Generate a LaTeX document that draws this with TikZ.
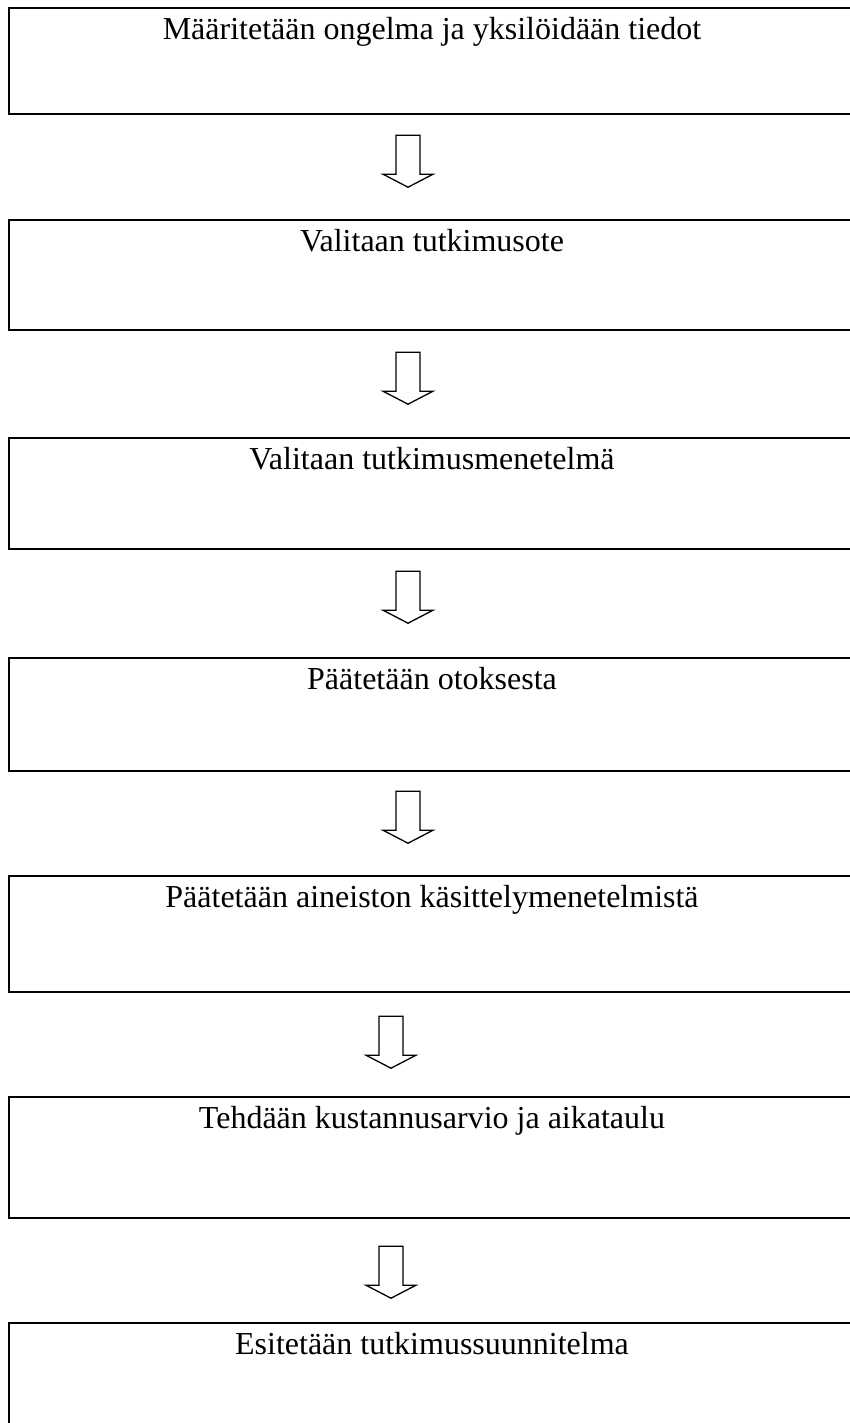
\documentclass[tikz,border=0pt]{standalone}
\usepackage{fontspec}
\setmainfont{Liberation Serif}
\usetikzlibrary{positioning}

\begin{document}
\begin{tikzpicture}[
            x=1pt, y=1pt,
            stepbox/.style={draw, line width=2.2pt, anchor=north, inner sep=0pt,
                minimum width=846pt, text height=31pt,
                font=\fontsize{32}{36}\selectfont},
            downarrow/.pic={
                \draw[line width=1.3pt, line join=miter]
                    (-12,0) -- (-12,-39) -- (-25,-39) -- (0,-52)
                    -- (25,-39) -- (12,-39) -- (12,0) -- cycle;
            }
        ]
        \clip (0,0) rectangle (850,-1423);
        \fill[white] (0,0) rectangle (850,-1423);

        \node[stepbox, text depth=75pt] (b1) at (432,-7) {Määritetään ongelma ja yksilöidään tiedot};
        \node[stepbox, text depth=79pt] (b2) at (432,-219) {Valitaan tutkimusote};
        \node[stepbox, text depth=80pt] (b3) at (432,-437) {Valitaan tutkimusmenetelmä};
        \node[stepbox, text depth=82pt] (b4) at (432,-657) {Päätetään otoksesta};
        \node[stepbox, text depth=85pt] (b5) at (432,-875) {Päätetään aineiston käsittelymenetelmistä};
        \node[stepbox, text depth=90pt] (b6) at (432,-1096) {Tehdään kustannusarvio ja aikataulu};
        \node[stepbox, text depth=110pt] (b7) at (432,-1322) {Esitetään tutkimussuunnitelma};

        % nuolet laatikoiden valissa
        \path (b1.south) ++(-24,-20) pic {downarrow};
        \path (b2.south) ++(-24,-21) pic {downarrow};
        \path (b3.south) ++(-24,-21) pic {downarrow};
        \path (b4.south) ++(-24,-19) pic {downarrow};
        \path (b5.south) ++(-41,-23) pic {downarrow};
        \path (b6.south) ++(-41,-27) pic {downarrow};
    \end{tikzpicture}
\end{document}
